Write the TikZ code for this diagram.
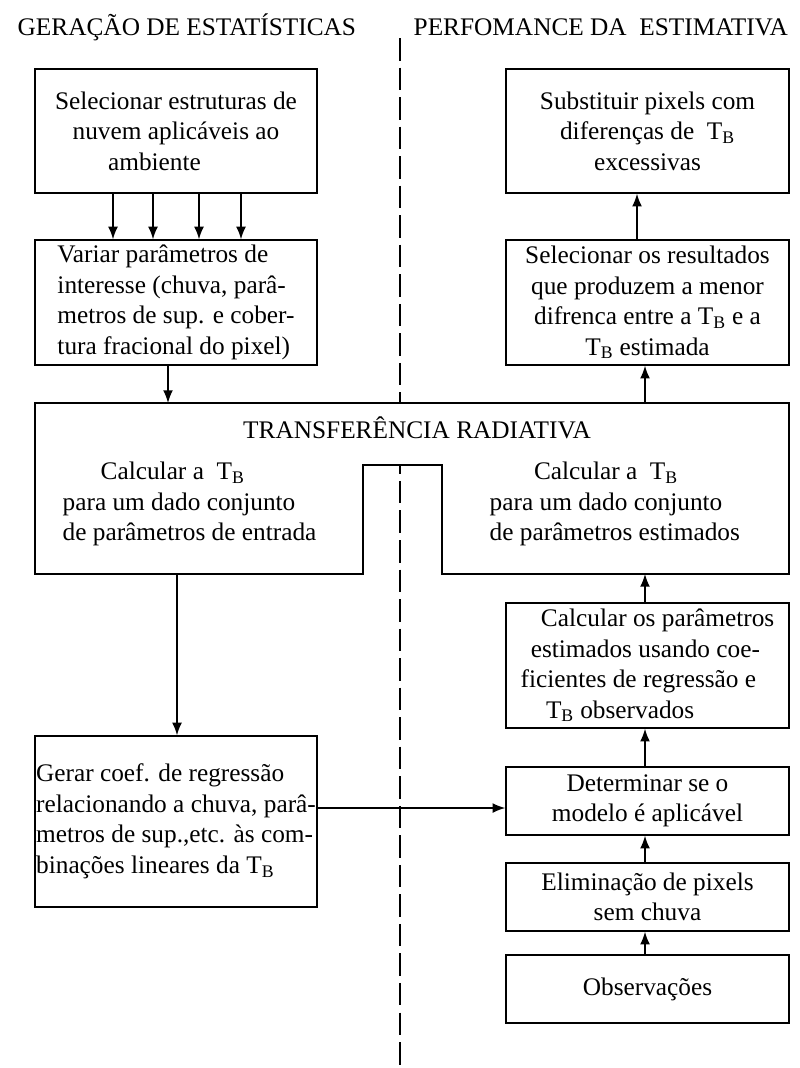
\documentclass[tikz,border=0pt]{standalone}
\usepackage{fontspec}
\setmainfont{Liberation Serif}
\usepackage{tikz}
\usetikzlibrary{arrows.meta}

\begin{document}
\begin{tikzpicture}[x=0.025cm, y=-0.025cm, >={Latex[length=9pt,width=7pt]}, line width=1pt,
	every node/.style={font=\fontsize{18}{21.7}\selectfont, inner sep=0pt},
	box/.style={draw, rectangle, fill=white, minimum width=7.05cm, align=center},
	boxr/.style={box, minimum width=7.075cm}]
	\useasboundingbox (0,0) rectangle (800,1068);
	
	\node[anchor=west] (titstat) at (17,27) {GERAÇÃO DE ESTATÍSTICAS};
	\node[anchor=west] (titperf) at (413,27) {PERFOMANCE DA\ \ ESTIMATIVA};
	
	\coordinate (divtop) at (400,38);
	\coordinate (divbot) at (400,1068);
	\draw[dash pattern=on 16pt off 5pt] (divtop) -- (divbot);
	
	\node[box, minimum height=3.1cm] (sel) at (176,131) {Selecionar estruturas de\\nuvem aplicáveis ao\\ambiente\hspace*{1.7em}};
	\node[box, minimum height=3.125cm, align=left] (var) at (176,302.5) {Variar parâmetros de\\interesse (chuva, parâ-\\metros de sup. e cober-\\tura fracional do pixel)};
	\node[box, minimum height=4.275cm, align=left] (gerar) at (176,821.5) {Gerar coef. de regressão\\relacionando a chuva, parâ-\\metros de sup.,etc. às com-\\binações lineares da T\textsubscript{B}};
	
	\coordinate (trnw) at (35,403);
	\coordinate (trne) at (789,403);
	\coordinate (trse) at (789,574);
	\coordinate (nchr) at (442,574);
	\coordinate (nchtr) at (442,465);
	\coordinate (nchtl) at (363,465);
	\coordinate (nchl) at (363,574);
	\coordinate (trsw) at (35,574);
	\draw[fill=white] (trnw) -- (trne) -- (trse) -- (nchr) -- (nchtr) -- (nchtl) -- (nchl) -- (trsw) -- cycle;
	\node (trtitle) at (417,428) {TRANSFERÊNCIA RADIATIVA};
	\node[align=left, anchor=west] (calcin) at (62,504) {\hspace*{1.5em}Calcular a\ \ T\textsubscript{B}\\para um dado conjunto\\de parâmetros de entrada};
	\node[align=left, anchor=west] (calcest) at (489,504) {\hspace*{1.75em}Calcular a\ \ T\textsubscript{B}\\para um dado conjunto\\de parâmetros estimados};
	
	\node[boxr, minimum height=3.1cm] (subst) at (647.5,131) {Substituir pixels com\\diferenças de\ \ T\textsubscript{B}\\excessivas};
	\node[boxr, minimum height=3.125cm] (selres) at (647.5,302.5) {Selecionar os resultados\\que produzem a menor\\difrenca entre a T\textsubscript{B} e a\\T\textsubscript{B} estimada};
	\node[boxr, minimum height=3.125cm, align=left] (calcpar) at (647.5,665.5) {\hspace*{0.8em}Calcular os parâmetros\\\hspace*{0.4em}estimados usando coe-\\ficientes de regressão e\\\hspace*{1em}T\textsubscript{B} observados};
	\node[boxr, minimum height=1.7cm] (determ) at (647.5,801) {Determinar se o\\modelo é aplicável};
	\node[boxr, minimum height=1.7cm] (elim) at (647.5,897) {Eliminação de pixels\\sem chuva};
	\node[boxr, minimum height=1.7cm] (obs) at (647.5,989) {Observações};
	
	\foreach \x in {113,153,199,241}
		\draw[->] (sel.south -| \x,0) -- (var.north -| \x,0);
	\coordinate (trin) at (168,403);
	\draw[->] (var.south -| trin) -- (trin);
	\coordinate (trout) at (177,574);
	\draw[->] (trout) -- (gerar.north -| trout);
	\coordinate (trup) at (645,403);
	\draw[->] (trup) -- (selres.south -| trup);
	\draw[->] (selres.north -| 637,0) -- (subst.south -| 637,0);
	\coordinate (trback) at (645,574);
	\draw[->] (calcpar.north -| trback) -- (trback);
	\draw[->] (determ.north -| 645,0) -- (calcpar.south -| 645,0);
	\draw[->] (elim.north -| 645,0) -- (determ.south -| 645,0);
	\draw[->] (obs.north -| 645,0) -- (elim.south -| 645,0);
	\coordinate (regout) at (gerar.east |- 0,808);
	\draw[->] (regout) -- (regout -| determ.west);
\end{tikzpicture}
\end{document}
